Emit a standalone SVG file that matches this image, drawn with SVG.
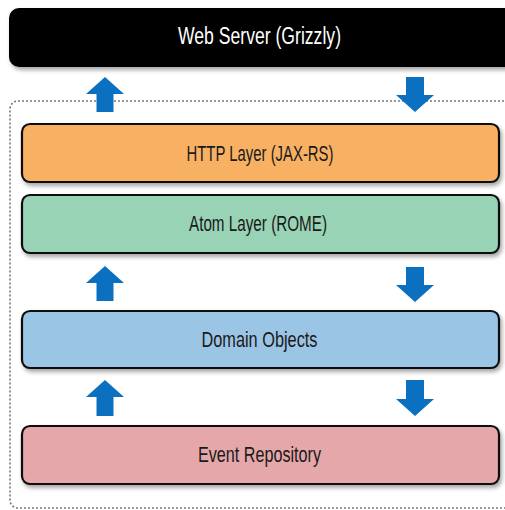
<svg xmlns="http://www.w3.org/2000/svg" width="505" height="510" viewBox="0 0 505 510">
<style>
.lbl{font-family:"Liberation Sans",Arial,sans-serif;font-size:22px;text-anchor:middle;fill:#1a1a1a}
.layer{stroke:#111;stroke-width:2.2}
.arrow{fill:#0B70BF}
</style>
<defs>
<filter id="sh" x="-5%" y="-20%" width="115%" height="150%">
<feDropShadow dx="2" dy="3" stdDeviation="2" flood-color="#000" flood-opacity="0.35"/>
</filter>
</defs>
<rect width="505" height="510" fill="#fff"/>
<g id="container">
<rect x="10" y="101" width="520" height="407" rx="8" fill="none" stroke="#777" stroke-width="1.6" stroke-dasharray="2 2"/>
</g>
<g id="web-server">
<rect x="9" y="8" width="520" height="59" rx="10" fill="#000" filter="url(#sh)"/>
<text class="lbl" x="259.5" y="44" style="fill:#fff;font-size:23px" textLength="163" lengthAdjust="spacingAndGlyphs">Web Server (Grizzly)</text>
</g>
<g id="http-layer">
<rect class="layer" x="22" y="124" width="477" height="58" rx="8" fill="#F8B163" filter="url(#sh)"/>
<text class="lbl" x="260" y="160.5" textLength="147" lengthAdjust="spacingAndGlyphs">HTTP Layer (JAX-RS)</text>
</g>
<g id="atom-layer">
<rect class="layer" x="22" y="195" width="477" height="58" rx="8" fill="#98D3B5" filter="url(#sh)"/>
<text class="lbl" x="258" y="231" textLength="138" lengthAdjust="spacingAndGlyphs">Atom Layer (ROME)</text>
</g>
<g id="domain-objects">
<rect class="layer" x="22" y="311" width="477" height="57" rx="8" fill="#9BC5E5" filter="url(#sh)"/>
<text class="lbl" x="259.5" y="347" textLength="116" lengthAdjust="spacingAndGlyphs">Domain Objects</text>
</g>
<g id="event-repository">
<rect class="layer" x="22" y="426" width="477" height="58" rx="8" fill="#E5A7A9" filter="url(#sh)"/>
<text class="lbl" x="259.5" y="462" textLength="123" lengthAdjust="spacingAndGlyphs">Event Repository</text>
</g>
<g id="connectors">
<path class="arrow" d="M105 77 L124 94 L113.5 94 L113.5 112 L96.5 112 L96.5 94 L86 94 Z"/>
<path class="arrow" d="M415 112 L434 95 L424 95 L424 77 L406 77 L406 95 L396 95 Z"/>
<path class="arrow" d="M105 266 L124 283 L113.5 283 L113.5 301 L96.5 301 L96.5 283 L86 283 Z"/>
<path class="arrow" d="M415 302 L434 285 L424 285 L424 267 L406 267 L406 285 L396 285 Z"/>
<path class="arrow" d="M105 380 L124 397 L113.5 397 L113.5 416 L96.5 416 L96.5 397 L86 397 Z"/>
<path class="arrow" d="M415 416 L434 399 L424 399 L424 380 L406 380 L406 399 L396 399 Z"/>
</g>
</svg>
